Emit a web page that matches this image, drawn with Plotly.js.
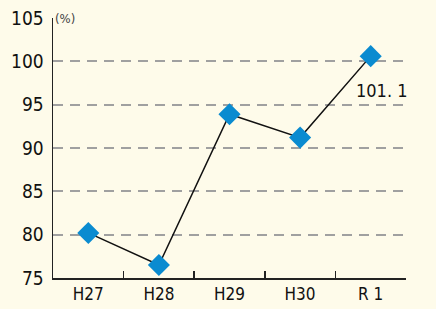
<!DOCTYPE html>
<html><head><meta charset="utf-8">
<script src="https://cdn.plot.ly/plotly-3.0.1.min.js"></script>
<style>html,body{margin:0;padding:0;background:#fefbea;}</style>
</head><body>
<div id="chart" style="width:436px;height:309px;"></div>
<script>
const categories = ["H27", "H28", "H29", "H30", "R 1"];
const values = [80.2, 76.5, 93.9, 91.2, 100.6];
const lastLabel = "101. 1";
const yTicks = [75, 80, 85, 90, 95, 100, 105];
const unitLabel = "(%)";

const font = "'Liberation Sans Narrow', 'DejaVu Sans Condensed', 'Liberation Sans', sans-serif";

const data = [{
  type: "scatter", mode: "lines+markers",
  x: categories, y: values,
  line: {color: "#111", width: 1.5},
  marker: {symbol: "diamond", size: 17, color: "#0a8bd0", line: {width: 0}},
  hoverinfo: "skip"
}];

const layout = {
  width: 436, height: 309,
  margin: {l: 53, r: 30, t: 18, b: 31},
  paper_bgcolor: "#fefbea", plot_bgcolor: "#fefbea",
  showlegend: false,
  font: {family: font, size: 17, color: "#111"},
  xaxis: {
    type: "category", range: [-0.5, 4.5],
    showline: true, linecolor: "#222", linewidth: 1.5,
    ticks: "inside", tickson: "boundaries", ticklen: 7, tickwidth: 1.5, tickcolor: "#222",
    showgrid: false, zeroline: false,
    tickfont: {family: font, size: 17, color: "#111"}
  },
  yaxis: {
    range: [75, 105], tickvals: yTicks, ticktext: yTicks.map(String),
    showline: true, linecolor: "#222", linewidth: 1.5,
    ticks: "", ticklabelstandoff: 4,
    showgrid: true, gridcolor: "#a0a0a0", gridwidth: 1.8, griddash: "10px,7px",
    zeroline: false,
    tickfont: {family: font, size: 19, color: "#111"}
  },
  annotations: [
    {xref: "paper", yref: "paper", x: 0.0, y: 1.0, xanchor: "left", yanchor: "middle",
     text: unitLabel, showarrow: false, font: {family: font, size: 13, color: "#444"}},
    {xref: "x", yref: "y", x: categories[4], y: values[4], xanchor: "center", yanchor: "top",
     xshift: 11, yshift: -22, text: lastLabel, showarrow: false,
     font: {family: font, size: 18, color: "#111"}}
  ]
};

Plotly.newPlot("chart", data, layout, {displayModeBar: false, staticPlot: true});
</script>
</body></html>
